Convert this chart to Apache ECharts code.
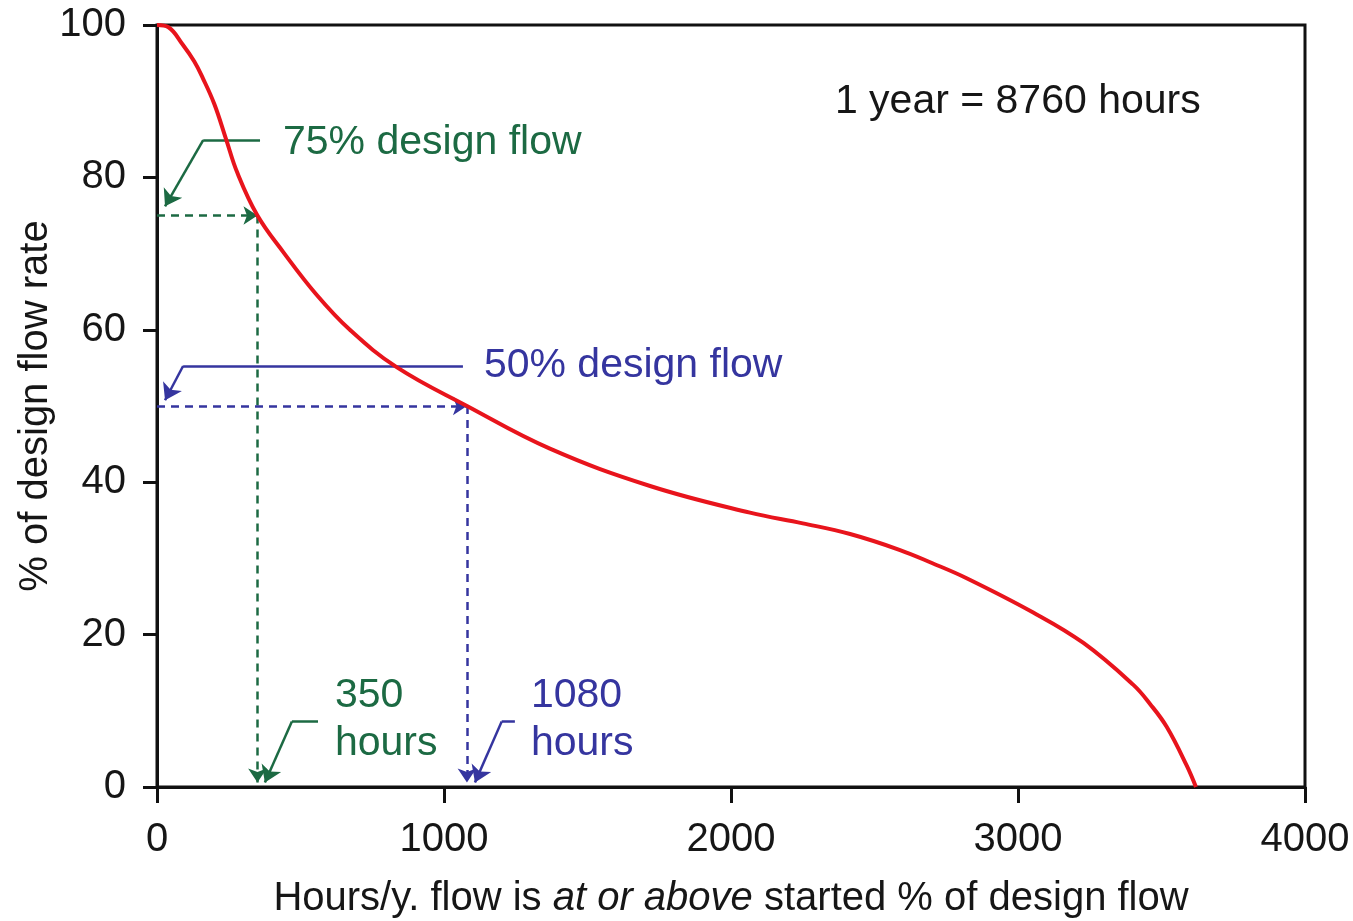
<!DOCTYPE html>
<html>
<head>
<meta charset="utf-8">
<script src="https://cdn.jsdelivr.net/npm/echarts@6/dist/echarts.min.js"></script>
<style>
  html, body { margin: 0; padding: 0; background: #fff; }
  #chart { width: 1353px; height: 921px; }
</style>
</head>
<body>
<div id="chart"></div>
<script>
// flow duration curve
var hours   = [0, 40, 90, 130, 160, 200, 240, 280, 350, 440, 556, 672, 835, 1080, 1369, 1718, 2066, 2250, 2415, 2589, 2700, 2821, 3053, 3228, 3402, 3460, 3518, 3588, 3620];
var flowPct = [100, 99.7, 97.4, 95.2, 93, 89.6, 85.1, 80.6, 75, 70.2, 64.6, 60.0, 55.1, 50, 44.4, 39.5, 36.0, 34.6, 33.2, 31.1, 29.4, 27.4, 22.9, 18.9, 13.4, 10.9, 7.9, 2.8, 0];

// the two read-offs: design flow % and hours/year
var guidePct   = [75, 50];
var guideHours = [350, 1080];

// leader lines (data coords): label end, elbow, arrow tip
var leader75   = [[359, 84.9], [161, 84.9], [28, 76.2]];
var leader50   = [[1066, 55.25], [91, 55.25], [28, 50.75]];
var leader350  = [[561, 8.6], [470, 8.6], [376, 0.6]];
var leader1080 = [[1247, 8.6], [1201, 8.6], [1108, 0.6]];

var labelTexts = ['75% design flow', '50% design flow', '350\nhours', '1080\nhours', '1 year = 8760 hours'];
var labelPos   = [[439, 84.6], [1139, 55.25], [620, 8.8], [1303, 8.8], [2362, 89.9]];

var GREEN = '#1c6a43', BLUE = '#35359f', INK = '#161616', RED = '#e8141c';
var FONT = '"Liberation Sans", Arial, sans-serif';
var colors = [GREEN, BLUE, GREEN, BLUE, INK];

var chart = echarts.init(document.getElementById('chart'));

var guideLines = [];
guidePct.forEach(function (p, i) {
  var c = i === 0 ? GREEN : BLUE;
  guideLines.push({ coords: [[0, p], [guideHours[i], p]], lineStyle: { color: c } });
  guideLines.push({ coords: [[guideHours[i], p], [guideHours[i], 0.6]], lineStyle: { color: c } });
});

var leaders = [leader75, leader50, leader350, leader1080];
var leaderFlat = [], leaderArrow = [];
leaders.forEach(function (l, i) {
  var c = i % 2 === 0 ? GREEN : BLUE;
  leaderFlat.push({ coords: [l[0], l[1]], lineStyle: { color: c } });
  leaderArrow.push({ coords: [l[1], l[2]], lineStyle: { color: c } });
});

var labelData = labelTexts.map(function (t, i) {
  return {
    value: labelPos[i],
    label: { formatter: t, color: colors[i] }
  };
});

chart.setOption({
  backgroundColor: '#fff',
  animation: false,
  grid: {
    left: 157, right: 48, top: 25, bottom: 134,
    outerBoundsMode: 'none',
    show: true, borderColor: '#111', borderWidth: 3
  },
  xAxis: {
    type: 'value', min: 0, max: 4000, interval: 1000,
    axisLine: { lineStyle: { color: '#111', width: 3 } },
    axisTick: { inside: false, length: 16, lineStyle: { color: '#111', width: 3 } },
    axisLabel: { fontSize: 40, color: INK, fontFamily: FONT, margin: 33, formatter: function (v) { return String(v); } },
    splitLine: { show: false },
    name: '{n|Hours/y. flow is }{i|at or above}{n| started % of design flow}',
    nameLocation: 'middle', nameGap: 92, nameMoveOverlap: false,
    nameTextStyle: {
      rich: {
        n: { fontSize: 40, color: INK, fontFamily: FONT },
        i: { fontSize: 40, color: INK, fontFamily: FONT, fontStyle: 'italic' }
      }
    }
  },
  yAxis: {
    type: 'value', min: 0, max: 100, interval: 20,
    axisLine: { lineStyle: { color: '#111', width: 3 } },
    axisTick: { inside: false, length: 14, lineStyle: { color: '#111', width: 3 } },
    axisLabel: { fontSize: 40, color: INK, fontFamily: FONT, margin: 31 },
    splitLine: { show: false },
    name: '% of design flow rate',
    nameLocation: 'middle', nameGap: 101, nameRotate: 90, nameMoveOverlap: false,
    nameTextStyle: { fontSize: 40, color: INK, fontFamily: FONT }
  },
  series: [
    {
      type: 'lines', coordinateSystem: 'cartesian2d', z: 2,
      symbol: ['none', 'arrow'], symbolSize: 14,
      lineStyle: { width: 2.5, type: [8, 6], opacity: 1 },
      data: guideLines
    },
    {
      type: 'lines', coordinateSystem: 'cartesian2d', z: 2,
      symbol: ['none', 'none'],
      lineStyle: { width: 2.5, type: 'solid', opacity: 1 },
      data: leaderFlat
    },
    {
      type: 'lines', coordinateSystem: 'cartesian2d', z: 2,
      symbol: ['none', 'arrow'], symbolSize: 16,
      lineStyle: { width: 2.5, type: 'solid', opacity: 1 },
      data: leaderArrow
    },
    {
      type: 'line', z: 5,
      data: hours.map(function (h, i) { return [h, flowPct[i]]; }),
      smooth: 0.4, showSymbol: false,
      lineStyle: { color: RED, width: 4 }
    },
    {
      type: 'scatter', z: 6,
      symbolSize: 0,
      itemStyle: { opacity: 1 },
      data: labelData,
      label: {
        show: true, position: 'right', distance: 0, opacity: 1,
        fontSize: 41, lineHeight: 48, fontFamily: FONT
      }
    }
  ]
});
</script>
</body>
</html>
